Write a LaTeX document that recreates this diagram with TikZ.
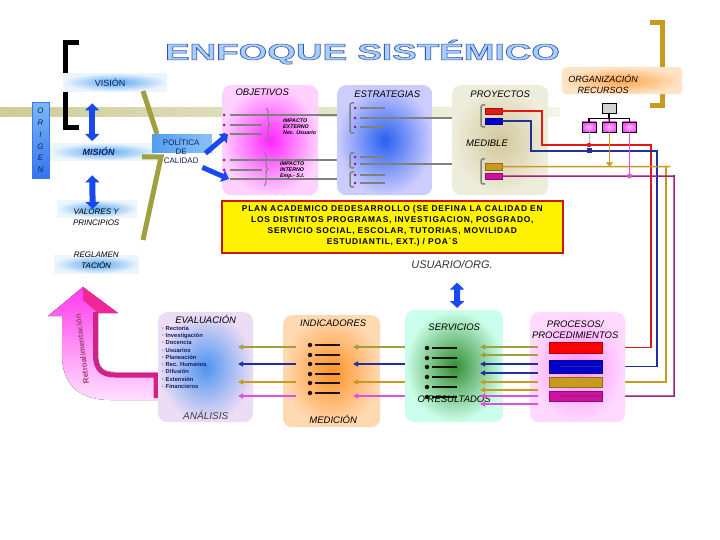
\documentclass[tikz,border=0pt]{standalone}
\usepackage{fontspec}
\setmainfont{Liberation Sans}
\usetikzlibrary{arrows.meta,decorations.pathreplacing}

\definecolor{khaki}{HTML}{CDCD98}
\definecolor{olivo}{HTML}{A0A040}
\definecolor{azul}{HTML}{1848F0}
\definecolor{marino}{HTML}{20309C}
\definecolor{oro}{HTML}{C89A20}
\definecolor{rojo}{HTML}{E01818}
\definecolor{fucsia}{HTML}{D010A0}
\definecolor{violeta}{HTML}{E050E0}
\definecolor{morado}{HTML}{A0207C}
\definecolor{celeste}{HTML}{5AA8F0}
\definecolor{tinta}{HTML}{102060}
\definecolor{lila}{HTML}{ECDCF4}

% titulo con contorno (modo de texto relleno + trazo)
\newcommand\rotulo{\special{pdf:literal direct 2 Tr 0.22 w 0.22 0.32 0.7 RG}%
  \resizebox{395pt}{20pt}{\bfseries ENFOQUE SISTÉMICO}\special{pdf:literal direct 0 Tr}}

\tikzset{
  caja/.style={rounded corners=9pt,anchor=north west,inner sep=0pt,minimum width=96pt,minimum height=110pt},
  cinta/.style={anchor=north west,inner sep=0pt,inner color=celeste,outer color=celeste!12},
  rot/.style={font=\itshape\fontsize{9.5}{11}\selectfont,inner sep=0pt,align=center},
  letrero/.style={inner sep=0pt},
  flecha/.style={line width=1.4pt,-{Triangle[length=5pt,width=5pt]}},
  dobleflecha/.style={azul,line width=6pt,{Triangle[length=7pt,width=14pt]}-{Triangle[length=7pt,width=14pt]}},
  gruesa/.style={azul,line width=5pt,-{Triangle[length=7pt,width=12pt]}},
  cable/.style={line width=1.5pt},
  vineta/.style={circle,fill=#1,inner sep=0pt,minimum size=3pt},
  gris/.style={gray,line width=1.3pt},
  corchete/.style={gray,line width=1.5pt,rounded corners=2pt},
  llave/.style={gray,line width=1pt,decorate,decoration={brace,amplitude=4pt}},
  barra/.style={anchor=north west,inner sep=0pt,fill=#1,draw=#1!70!black,line width=0.4pt},
  chico/.style={font=\bfseries\itshape\fontsize{5.3}{6}\selectfont,anchor=west,align=left,inner sep=0pt},
}

\begin{document}
\begin{tikzpicture}[x=1pt,y=-1pt]
\fill[white] (0,0) rectangle (720,540);
\useasboundingbox (0,0) rectangle (720,540);

% fondo y corchetes
\fill[left color=khaki,right color=khaki!20] (0,108) rectangle (560,117);
\draw[line width=5pt] (79,43) -- (65.5,43) -- (65.5,128) -- (79,128);
\draw[oro,line width=5pt] (650,22.5) -- (662.5,22.5) -- (662.5,105.5) -- (650,105.5);

% titulo
\node[letrero,text=celeste!55] (titulo) at (362.5,52) {\rotulo};

% columna izquierda
\node[anchor=north west,minimum width=17pt,minimum height=76pt,inner sep=0pt,
  top color=celeste!80,bottom color=azul!55!celeste,draw=azul!50!celeste] (origen) at (32,102) {};
\foreach \letra [count=\i] in {O,R,I,G,E,N}
  \node[font=\itshape\fontsize{8}{8}\selectfont,text=tinta] at (40.5,99.5+11.7*\i) {\letra};

\node[cinta,minimum width=104pt,minimum height=18pt] (vision) at (63,73) {};
\node[font=\fontsize{9}{9}\selectfont,text=tinta] (tvision) at ([xshift=-5pt]vision.center) {VISIÓN};
\node[cinta,minimum width=107pt,minimum height=17pt] (mision) at (50,143) {};
\node[font=\bfseries\itshape\fontsize{9}{9}\selectfont,text=tinta] (tmision) at ([xshift=-5pt]mision.center) {MISIÓN};
\node[cinta,minimum width=80pt,minimum height=17pt] (valores) at (57,200) {};
\node[rot,font=\itshape\fontsize{8}{11}\selectfont] (tvalores) at ([xshift=-1pt,yshift=-9pt]valores.center) {VALORES Y\\PRINCIPIOS};
\node[cinta,minimum width=85pt,minimum height=18pt] (reglam) at (54,255) {};
\node[rot,font=\itshape\fontsize{8}{11}\selectfont] (treglam) at ([xshift=-0.5pt,yshift=4pt]reglam.center) {REGLAMEN\\TACIÓN};

\draw[dobleflecha] ([xshift=-23pt,yshift=-12pt]vision.south) -- ([xshift=-11.5pt,yshift=2pt]mision.north);
\draw[dobleflecha] ([xshift=-11.5pt,yshift=-15pt]mision.south) -- ([xshift=-4.5pt,yshift=-9pt]valores.north);

% politica de calidad
\node[anchor=north west,minimum width=60pt,minimum height=18pt,inner sep=0pt,
  left color=celeste!90!azul,right color=celeste!70] (politica) at (152,134) {};
\draw[olivo,line width=5pt] (143,91) -- ([xshift=5pt]politica.north west);
\draw[olivo,line width=5pt] (142,157) -- (161,157) -- (143,240);
\node[rot,font=\fontsize{8}{9}\selectfont,text=tinta] (tpolitica) at ([xshift=-1pt,yshift=-8pt]politica.center) {POLÍTICA\\DE\\CALIDAD};

% objetivos
\node[caja,inner color=magenta!85,outer color=magenta!18] (obj) at (222,85) {};
\node[rot] (tobj) at ([xshift=-8pt,yshift=-7pt]obj.north) {OBJETIVOS};
\foreach \y [count=\i] in {115,125,134,160,170,179}
  \node[vineta=morado] (ob\i) at (224,\y) {};
\foreach \i/\l in {1/120,2/32,3/32,4/120,5/32,6/120}
  \draw[gris] ([xshift=6pt]ob\i.center) -- ++(\l,0);
\draw[llave] (266,108) -- (266,141);
\draw[llave] (264,152) -- (264,186);
\node[chico] (iext) at (283,127) {IMPACTO\\EXTERNO\\Nec. Usuario};
\node[chico] (iint) at (280,170.5) {IMPACTO\\INTERNO\\Emp.- S.I.};
\draw[gruesa] ([xshift=-7pt,yshift=-1pt]politica.south east) -- ([xshift=4pt]ob3.center);
\draw[gruesa] ([xshift=-10pt,yshift=-15pt]politica.south east) -- ([xshift=5pt]ob6.center);

% estrategias
\node[caja,minimum width=95pt,inner color=azul!75!celeste,outer color=blue!20] (estr) at (337,85) {};
\node[rot] (testr) at ([xshift=2.5pt,yshift=-9pt]estr.north) {ESTRATEGIAS};
\draw[corchete] (354,103) -- (350,103) -- (350,133) -- (354,133);
\draw[corchete] (354,153) -- (350,153) -- (350,168) -- (354,168);
\draw[corchete] (354,172) -- (350,172) -- (350,187) -- (354,187);
\foreach \y [count=\i] in {108,118,127,157,164,175,183}
  \node[vineta=morado] (es\i) at (355,\y) {};
\foreach \i/\l in {1/25,2/121,3/25,4/25,5/121,6/25,7/25}
  \draw[gris] ([xshift=5pt]es\i.center) -- ++(\l,0);
\draw[gris] (ob1.east -| obj.east) -- (ob1.east -| estr.west);

% proyectos
\node[caja,inner color=khaki!75!brown!80,outer color=khaki!35] (proy) at (452,85) {};
\node[rot] (tproy) at ([yshift=-9pt]proy.north) {PROYECTOS};
\node[rot] (medible) at (487,143) {MEDIBLE};
\draw[corchete] (485,105) -- (481,105) -- (481,127) -- (485,127);
\draw[corchete] (485,159) -- (481,159) -- (481,184) -- (485,184);
\node[barra=rojo,minimum width=17pt,minimum height=6pt] (pr1) at (485,108) {};
\node[barra=blue!80!black,minimum width=17pt,minimum height=6pt] (pr2) at (485,118) {};
\node[barra=oro,minimum width=17pt,minimum height=7pt] (pr3) at (485,163) {};
\node[barra=fucsia,minimum width=17pt,minimum height=6pt] (pr4) at (485,173) {};

% organizacion recursos
\node[anchor=north west,rounded corners=4pt,minimum width=120pt,minimum height=27pt,inner sep=0pt,
  inner color=orange!70,outer color=orange!22] (org) at (562,67) {};
\node[rot,font=\itshape\fontsize{9}{11}\selectfont] (torg) at ([xshift=-19pt,yshift=-3pt]org.center) {ORGANIZACIÓN\\RECURSOS};
\node[draw,fill=gray!35,minimum width=14pt,minimum height=10pt,inner sep=0pt] (jefe) at (609,108) {};
\foreach \x [count=\i] in {589,609.5,629.5}
  \node[draw,inner color=magenta!25,outer color=magenta!70,minimum width=14pt,minimum height=10pt,inner sep=0pt] (r\i) at (\x,127) {};
\draw[line width=1.2pt] (jefe.south) -- ++(0,5) coordinate (rama);
\draw[line width=1.2pt] (r1.north) |- (rama) -| (r3.north);
\draw[line width=1.2pt] (rama) -- (r2.north);

% cables
\draw[cable,rojo] (pr1.east) -| (542,145) -- (651,145) |- (560,347.5) coordinate (cR);
\draw[cable,marino] (pr2.east) -| (531,151) -- (657,151) |- (560,366.5) coordinate (cB);
\draw[cable,oro] (pr3.east) -- (670,166.5);
\draw[cable,oro] (666,166.5) |- (560,382) coordinate (cO);
\draw[cable,morado] (pr4.east) -- (674,176) |- (560,396) coordinate (cM);
\draw[green!25!gray!60,line width=1pt] (r1.south) -- (589,145) coordinate (nodoR);
\fill[rojo] (nodoR) circle (2.3pt);
\fill[marino] (586.5,148.5) rectangle (591.5,153.5);
\draw[oro,line width=1.5pt,-{Triangle[length=4pt,width=7pt]}] (r2.south) -- (609.5,166.5);
\draw[violeta,line width=1.5pt] (r3.south) -- (629.5,176) coordinate (nodoM);
\fill[violeta] (nodoM) circle (2.5pt);

% plan academico
\node[anchor=north west,minimum width=341pt,minimum height=52pt,inner sep=0pt,fill=yellow,draw=rojo!90!black,line width=1.6pt] (plan) at (221,200) {};
\node[font=\bfseries\fontsize{8.4}{11}\selectfont\addfontfeature{LetterSpace=9},align=center,inner sep=0pt] (tplan) at ([yshift=1pt]plan.center)
  {PLAN ACADEMICO DEDESARROLLO (SE DEFINA LA CALIDAD EN\\LOS DISTINTOS PROGRAMAS, INVESTIGACION, POSGRADO,\\SERVICIO SOCIAL, ESCOLAR, TUTORIAS, MOVILIDAD\\ESTUDIANTIL, EXT.) / POA´S};

\node[font=\itshape\fontsize{11}{11}\selectfont,text=black!80] (usuario) at (452,265) {USUARIO/ORG.};

% retroalimentacion
\fill[top color=magenta!70!pink,bottom color=magenta!12] (48,316) -- (83,287) -- (118,313) -- (98,313) -- (98,355)
  .. controls (98,368) and (104,372) .. (115,372) -- (160,372) -- (160,400) -- (110,400)
  .. controls (80,400) and (62,385) .. (62,355) -- (62,316) -- cycle;
\fill[magenta!80!pink] (83,287) -- (118,313) -- (98,313) -- (83,300) -- cycle;
\draw[magenta!70!violet,line width=5pt] (95.5,312) -- (95.5,355) .. controls (95.5,370) and (103,375) .. (115,375) -- (156,375) -- (156,398);
\node[font=\bfseries\fontsize{8}{8}\selectfont,text=magenta!60!black,rotate=97] (retro) at (82,349) {Retroalimentación};

% evaluacion
\node[caja,minimum width=95pt,inner color=celeste!80!azul,outer color=lila] (eval) at (158,312) {};
\node[rot,font=\itshape\fontsize{9.5}{11}\selectfont] (teval) at ([yshift=-7pt]eval.north) {EVALUACIÓN};
\node[rot,font=\itshape\fontsize{10}{11}\selectfont,text=black!75] (analisis) at ([yshift=7pt]eval.south) {ANÁLISIS};
\node[font=\bfseries\fontsize{5.8}{7.25}\selectfont,align=left,anchor=north west,inner sep=0pt,text=tinta] (lista) at (162,326)
  {· Rectoría\\· Investigación\\· Docencia\\· Usuarios\\· Planeación\\· Rec. Humanos\\· Difusión\\· Extensión\\· Financieros};

% indicadores
\node[caja,minimum width=97pt,minimum height=112pt,inner color=orange!85,outer color=orange!30] (ind) at (283,315) {};
\node[rot] (tind) at ([xshift=1.5pt,yshift=-8pt]ind.north) {INDICADORES};
\node[rot] (medicion) at ([xshift=1.5pt,yshift=8pt]ind.south) {MEDICIÓN};
\foreach \y [count=\i] in {345,355,364,374,383,393}{
  \node[vineta=black!85!brown,minimum size=4.5pt] (in\i) at (310,\y) {};
  \draw[black!85!brown,line width=1.5pt] ([xshift=5pt]in\i.center) -- ++(25,0);}

% servicios
\node[caja,minimum width=98pt,minimum height=112pt,inner color=green!45!black!80,outer color=green!40!cyan!20] (serv) at (405,310) {};
\node[rot] (tserv) at ([yshift=-17pt]serv.north) {SERVICIOS};
\foreach \y [count=\i] in {348,358,367,377,387,397}{
  \node[vineta=black!85!brown,minimum size=4.5pt] (sv\i) at (427,\y) {};
  \draw[black!85!brown,line width=1.5pt] ([xshift=5pt]sv\i.center) -- ++(25,0);}
\node[rot] (result) at ([yshift=23pt]serv.south) {O RESULTADOS};

% procesos
\node[caja,minimum width=95pt,inner color=magenta!45,outer color=magenta!15] (proc) at (530,312) {};
\node[rot] (tproc) at ([xshift=-2.5pt,yshift=-18pt]proc.north) {PROCESOS/\\PROCEDIMIENTOS};
\node[barra=red,minimum width=53pt,minimum height=11pt] (pc1) at (549,342) {};
\node[barra=blue!80!black,minimum width=53pt,minimum height=13pt] (pc2) at (549,360) {};
\node[barra=oro,minimum width=53pt,minimum height=10pt] (pc3) at (549,377) {};
\node[barra=fucsia,minimum width=53pt,minimum height=10pt] (pc4) at (549,391) {};
\draw[cable,rojo] (cR) -- (pc1.east |- cR);
\draw[cable,marino] (cB) -- (pc2.east |- cB);
\draw[cable,oro] (cO) -- (pc3.east |- cO);
\draw[cable,morado] (cM) -- (pc4.east |- cM);

% flechas de retorno
\foreach \y/\c in {347/olivo,355/olivo,364/marino,373/marino,382/oro,390/oro,396/violeta,404/violeta}
  \draw[flecha,\c] (538,\y) -- (480,\y);
\foreach \y/\c in {347/olivo,364/marino,382/oro,396/violeta}{
  \draw[flecha,\c] (405,\y) -- (353,\y);
  \draw[flecha,\c] (296,\y) -- (238,\y);}

\draw[dobleflecha] ([xshift=5pt,yshift=-10pt]usuario.south) -- ([xshift=3pt,yshift=2pt]serv.north);
\end{tikzpicture}
\end{document}
